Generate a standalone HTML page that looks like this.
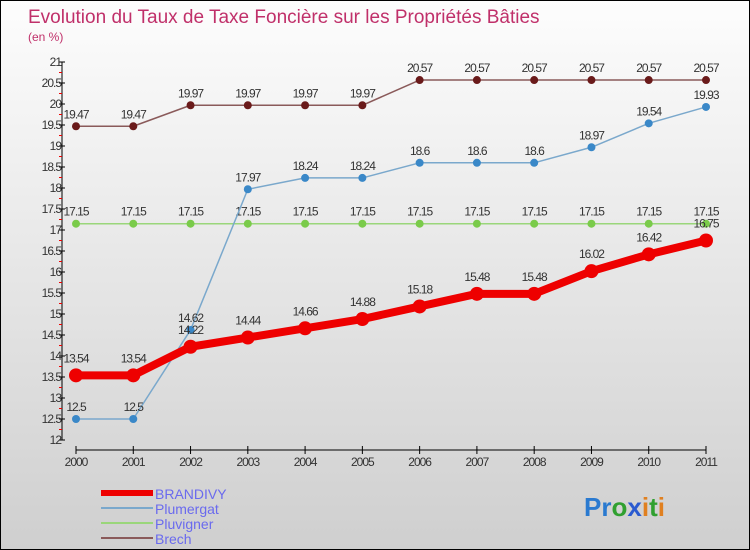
<!DOCTYPE html>
<html><head><meta charset="utf-8"><style>
body{margin:0}
#c{width:750px;height:550px;position:relative;box-sizing:border-box;border:1px solid #000;background:linear-gradient(#fdfdfd,#cfcfcf);font-family:"Liberation Sans",sans-serif;overflow:hidden}
</style></head><body>
<div id="c">
<svg id="s" width="750" height="550" style="position:absolute;left:0;top:0">
<text x="27" y="22" font-size="19" fill="#c0306a">Evolution du Taux de Taxe Foncière sur les Propriétés Bâties</text>
<text x="27" y="40" font-size="12" fill="#c0306a">(en %)</text>
</svg>
</div>
<script>
const years=[2000,2001,2002,2003,2004,2005,2006,2007,2008,2009,2010,2011];
const brandivy=[13.54,13.54,14.22,14.44,14.66,14.88,15.18,15.48,15.48,16.02,16.42,16.75];
const plumergat=[12.5,12.5,14.62,17.97,18.24,18.24,18.6,18.6,18.6,18.97,19.54,19.93];
const pluvigner=[17.15,17.15,17.15,17.15,17.15,17.15,17.15,17.15,17.15,17.15,17.15,17.15];
const brech=[19.47,19.47,19.97,19.97,19.97,19.97,20.57,20.57,20.57,20.57,20.57,20.57];
const yTicks=[12,12.5,13,13.5,14,14.5,15,15.5,16,16.5,17,17.5,18,18.5,19,19.5,20,20.5,21];
const NS='http://www.w3.org/2000/svg';
const svg=document.getElementById('s');
const X=i=>75+i*(630/11);
const Y=v=>439-(v-12)*42;
function mk(t,a,txt){const e=document.createElementNS(NS,t);for(const k in a)e.setAttribute(k,a[k]);if(txt!==undefined)e.textContent=txt;svg.appendChild(e);return e;}
// axes
let ax=mk('line',{x1:61,y1:Y(21),x2:61,y2:Y(12),stroke:'#000'});


let xa=mk('line',{x1:X(0),y1:449,x2:X(11),y2:449,stroke:'#000'});


for(let v=12;v<21;v+=0.25){if(v%0.5!==0){const t=mk('line',{x1:58,y1:Y(v),x2:61,y2:Y(v),stroke:'#e00'});}}
yTicks.forEach(v=>{mk('line',{x1:58,y1:Y(v),x2:64,y2:Y(v),stroke:'#000'});
const t=mk('text',{x:60,y:Y(v)+4,'font-size':12,'text-anchor':'end',fill:'#333','letter-spacing':'-1'},String(v));

});
years.forEach((y,i)=>{mk('line',{x1:X(i),y1:445,x2:X(i),y2:453,stroke:'#000'});
const t=mk('text',{x:X(i),y:465,'font-size':12,'text-anchor':'middle',fill:'#333','letter-spacing':'-1'},String(y));

});
function series(data,name,color,w,r,dot,labOff){
 const pts=data.map((v,i)=>X(i)+','+Y(v)).join(' ');
 const l=mk('polyline',{points:pts,fill:'none',stroke:color,'stroke-width':w,'stroke-linejoin':'round'});
 
 
 data.forEach((v,i)=>{const c=mk('circle',{cx:X(i),cy:Y(v),r:r,fill:dot});
 
 
 const t=mk('text',{x:X(i),y:Y(v)-labOff,'font-size':12,'text-anchor':'middle',fill:'#333','letter-spacing':'-1'},String(v));
 
 });
}
series(brech,'brech','#8a5a5a',1.5,4,'#6a1a1a',8);
series(pluvigner,'pluvigner','#9ad67a',1.5,4,'#7acb4a',8);
series(plumergat,'plumergat','#7aa8cc',1.5,4,'#3a88c8',8);
series(brandivy,'brandivy','#ee0000',8,7,'#ee0000',13);
const leg=[['BRANDIVY','#ee0000',6],['Plumergat','#7aa8cc',2],['Pluvigner','#9ad67a',2],['Brech','#8a5a5a',2]];
leg.forEach((d,i)=>{const y=492+i*15;
 const l=mk('line',{x1:100,y1:y,x2:152,y2:y,stroke:d[1],'stroke-width':d[2]});
 
 
 const t=mk('text',{x:154,y:y+6,'font-size':14,fill:'#6a6aee'},d[0]);
 
 });
const logo=mk('text',{x:583,y:515,'font-size':26,'font-weight':'bold'});


[['Pr','#2a7ad0'],['o','#30a030'],['x','#2a5ad0'],['i','#e08020'],['t','#30a030'],['i','#e08020']].forEach(p=>{const s=document.createElementNS(NS,'tspan');s.setAttribute('fill',p[1]);s.textContent=p[0];logo.appendChild(s);});
</script>
</body></html>
